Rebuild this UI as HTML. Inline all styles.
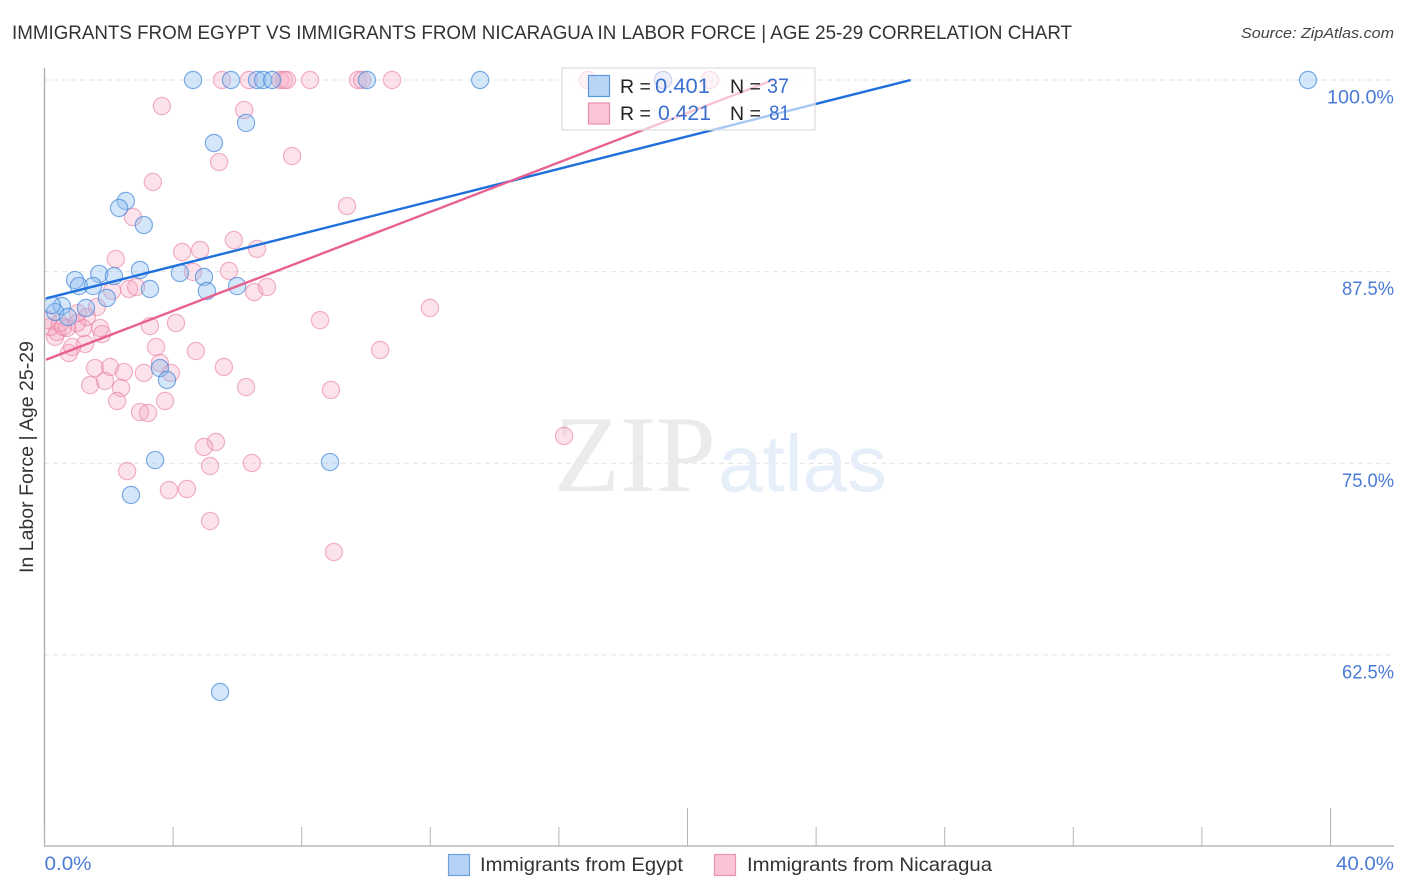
<!DOCTYPE html>
<html lang="en">
<head>
<meta charset="utf-8">
<title>Immigrants from Egypt vs Immigrants from Nicaragua in Labor Force</title>
<style>
html,body{margin:0;padding:0;background:#fff;}
body{width:1406px;height:892px;overflow:hidden;}
svg{display:block;font-family:"Liberation Sans",sans-serif;}
</style>
</head>
<body>
<svg id="chart" xmlns="http://www.w3.org/2000/svg" width="1406" height="892" viewBox="0 0 1406 892">
  <defs>
    <clipPath id="plot-clip"><rect x="44" y="68" width="1350" height="778"></rect></clipPath>
  </defs>
  <rect x="0" y="0" width="1406" height="892" fill="#ffffff"></rect>
  <text x="12" y="39" font-size="19.5" fill="#333" textLength="1060" lengthAdjust="spacingAndGlyphs">IMMIGRANTS FROM EGYPT VS IMMIGRANTS FROM NICARAGUA IN LABOR FORCE | AGE 25-29 CORRELATION CHART</text>
  <text x="1241" y="38" font-size="15" font-style="italic" fill="#444" textLength="153" lengthAdjust="spacingAndGlyphs">Source: ZipAtlas.com</text>
  <g id="grid"></g>
  <g>
    <text x="554" y="491" font-family="'Liberation Serif',serif" font-size="109" fill="#ebebeb" textLength="162" lengthAdjust="spacingAndGlyphs">ZIP</text>
    <text x="718" y="491" font-size="80" fill="#e6eefa" textLength="169" lengthAdjust="spacingAndGlyphs">atlas</text>
  </g>
  <g id="points" clip-path="url(#plot-clip)"></g>
  <g id="trends" clip-path="url(#plot-clip)"></g>
  <g id="axes"></g>
  <text transform="translate(33,457) rotate(-90)" text-anchor="middle" font-size="19" fill="#333" textLength="232" lengthAdjust="spacingAndGlyphs">In Labor Force | Age 25-29</text>

  <g>
    <rect x="562" y="68" width="253" height="62" fill="#ffffff" fill-opacity="0.62" stroke="#dddddd" stroke-width="1.2"></rect>
    <rect x="588.5" y="75.5" width="21" height="21" fill="#a9ccf5" fill-opacity="0.8" stroke="#5b97dc" stroke-width="1.2"></rect>
    <rect x="588.5" y="103" width="21" height="21" fill="#f9c0d2" fill-opacity="0.9" stroke="#ec8fb0" stroke-width="1.2"></rect>
    <text x="620" y="93" font-size="19.5" fill="#222">R =</text>
    <text x="655" y="93" font-size="21" fill="#3b6fd0" textLength="55" lengthAdjust="spacingAndGlyphs">0.401</text>
    <text x="730" y="93" font-size="19.5" fill="#222">N =</text>
    <text x="767" y="93" font-size="21" fill="#3b6fd0" textLength="22" lengthAdjust="spacingAndGlyphs">37</text>
    <text x="620" y="120" font-size="19.5" fill="#222">R =</text>
    <text x="658" y="120" font-size="21" fill="#3b6fd0" textLength="53" lengthAdjust="spacingAndGlyphs">0.421</text>
    <text x="730" y="120" font-size="19.5" fill="#222">N =</text>
    <text x="769" y="120" font-size="21" fill="#3b6fd0" textLength="21" lengthAdjust="spacingAndGlyphs">81</text>
  </g>

  <g>
    <rect x="448.5" y="854.5" width="21" height="21" fill="#b5d2f6" stroke="#6f9fdc" stroke-width="1.2"></rect>
    <text x="480" y="871" font-size="19.5" fill="#333" textLength="203" lengthAdjust="spacingAndGlyphs">Immigrants from Egypt</text>
    <rect x="714.5" y="854.5" width="21" height="21" fill="#fac4d5" stroke="#e995b3" stroke-width="1.2"></rect>
    <text x="747" y="871" font-size="19.5" fill="#333" textLength="245" lengthAdjust="spacingAndGlyphs">Immigrants from Nicaragua</text>
  </g>
</svg>
<script>
const yTickValues = [100, 87.5, 75, 62.5];
const yTickLabels = ["100.0%", "87.5%", "75.0%", "62.5%"];
const xTickValues = [0, 4, 8, 12, 16, 20, 24, 28, 32, 36, 40];
const xMajorTicks = [20, 40];
const xEndValues = [0, 40];
const xEndLabels = ["0.0%", "40.0%"];

const egyptX = [4.62, 5.80, 6.61, 6.80, 7.08, 10.03, 13.55, 19.24, 39.30, 6.27, 5.27, 2.53, 2.32, 3.09, 0.95, 1.07, 1.70, 1.51, 2.16, 2.97, 3.28, 4.21, 4.96, 5.05, 5.99, 1.94, 1.29, 0.54, 0.33, 0.73, 0.23, 3.59, 3.81, 3.44, 8.88, 2.69, 5.46];
const egyptY = [100, 100, 100, 100, 100, 100, 100, 100, 100, 97.2, 95.89, 92.11, 91.65, 90.54, 86.95, 86.56, 87.35, 86.56, 87.21, 87.61, 86.37, 87.41, 87.15, 86.24, 86.56, 85.78, 85.13, 85.26, 84.87, 84.54, 85.32, 81.21, 80.43, 75.21, 75.08, 72.93, 60.08];

const nicaraguaX = [5.52, 6.36, 7.33, 7.45, 7.54, 8.26, 9.75, 9.88, 10.81, 16.90, 19.24, 20.70, 3.65, 6.21, 5.43, 7.70, 3.37, 2.75, 9.41, 5.89, 6.61, 4.28, 4.84, 2.22, 4.62, 5.74, 6.52, 6.92, 2.63, 2.85, 2.10, 1.63, 8.57, 11.99, 10.44, 8.91, 16.16, 9.00, 3.28, 4.09, 3.47, 4.71, 1.57, 2.04, 2.47, 3.09, 3.59, 3.93, 5.58, 6.27, 1.42, 1.88, 2.38, 2.26, 3.75, 2.97, 3.22, 5.33, 4.96, 5.15, 6.45, 2.57, 3.87, 4.43, 5.15, 0.76, 0.86, 1.26, 1.73, 1.79, 1.20, 1.01, 1.32, 0.33, 0.39, 0.70, 0.17, 0.11, 0.48, 1.04, 0.58];
const nicaraguaY = [100, 100, 100, 100, 100, 100, 100, 100, 100, 100, 100, 100, 98.3, 98.04, 94.65, 95.04, 93.35, 91.06, 91.78, 89.56, 88.98, 88.78, 88.91, 88.32, 87.48, 87.54, 86.17, 86.5, 86.37, 86.5, 86.24, 85.19, 84.34, 85.13, 82.39, 79.78, 76.78, 69.21, 83.95, 84.15, 82.58, 82.32, 81.21, 81.28, 80.95, 80.89, 81.54, 80.89, 81.28, 79.97, 80.10, 80.37, 79.91, 79.06, 79.06, 78.34, 78.28, 76.39, 76.06, 74.82, 75.02, 74.49, 73.25, 73.32, 71.23, 82.19, 82.58, 82.78, 83.82, 83.43, 83.82, 84.15, 84.54, 83.24, 83.56, 83.82, 83.89, 84.34, 84.15, 84.80, 83.89];

const egyptTrendX = [0, 26.94];
const egyptTrendY = [85.75, 100];
const nicaraguaTrendX = [0, 22.66];
const nicaraguaTrendY = [81.75, 100];

const NS = "http://www.w3.org/2000/svg";
function xScale(v) { return 44.5 + v * 32.15; }
function yScale(v) { return 80 + (100 - v) * 15.33; }
function make(tag, attrs, parent) {
  const el = document.createElementNS(NS, tag);
  for (const k in attrs) el.setAttribute(k, attrs[k]);
  parent.appendChild(el);
  return el;
}

const gridG = document.getElementById("grid");
const axesG = document.getElementById("axes");
const pointsG = document.getElementById("points");
const trendsG = document.getElementById("trends");

yTickValues.forEach(function (v, i) {
  const line = make("line", { x1: 44, x2: 1394, y1: yScale(v), y2: yScale(v), stroke: "#e2e2e2", "stroke-width": 1, "stroke-dasharray": "5 4" }, gridG);
  
  
  const text = yTickLabels[i];
  const label = make("text", { x: 1394, y: yScale(v) + 23.5, "text-anchor": "end", "font-size": 19, fill: "#4a7bd6", textLength: text.length === 6 ? 67 : 52, lengthAdjust: "spacingAndGlyphs" }, axesG);
  label.textContent = text;
  
  
});

const yAxisLine = make("line", { x1: 44.5, x2: 44.5, y1: 68, y2: 846, stroke: "#aaaaaa", "stroke-width": 1.3 }, axesG);


const xAxisLine = make("line", { x1: 44, x2: 1394, y1: 846, y2: 846, stroke: "#aaaaaa", "stroke-width": 1.3 }, axesG);



xTickValues.forEach(function (v) {
  const top = xMajorTicks.indexOf(v) >= 0 ? 808 : 827;
  const tick = make("line", { x1: xScale(v), x2: xScale(v), y1: top, y2: 846, stroke: "#b4b4b4", "stroke-width": 1 }, axesG);
  
  
});

xEndValues.forEach(function (v, i) {
  const label = make("text", { x: i === 0 ? xScale(v) : 1394, y: 870, "text-anchor": i === 0 ? "start" : "end", "font-size": 19, fill: "#4a7bd6", textLength: i === 0 ? 47 : 58, lengthAdjust: "spacingAndGlyphs" }, axesG);
  label.textContent = xEndLabels[i];
  
  
});

nicaraguaX.forEach(function (v, i) {
  const c = make("circle", { cx: xScale(v), cy: yScale(nicaraguaY[i]), r: 8.6, fill: "#f7a9c2", "fill-opacity": 0.32, stroke: "#e77fa3", "stroke-opacity": 0.6, "stroke-width": 1.2 }, pointsG);
  
  
});
egyptX.forEach(function (v, i) {
  const c = make("circle", { cx: xScale(v), cy: yScale(egyptY[i]), r: 8.6, fill: "#8fbcf0", "fill-opacity": 0.38, stroke: "#3f82d8", "stroke-opacity": 0.65, "stroke-width": 1.2 }, pointsG);
  
  
});

const egyptTrend = make("line", { x1: xScale(egyptTrendX[0]) + 1.5, y1: yScale(egyptTrendY[0]), x2: xScale(egyptTrendX[1]), y2: yScale(egyptTrendY[1]), stroke: "#1f6fdc", "stroke-width": 2.4 }, trendsG);


const nicaraguaTrend = make("line", { x1: xScale(nicaraguaTrendX[0]) + 1.5, y1: yScale(nicaraguaTrendY[0]), x2: xScale(nicaraguaTrendX[1]), y2: yScale(nicaraguaTrendY[1]), stroke: "#e8608f", "stroke-width": 2.4 }, trendsG);


</script>
</body>
</html>
